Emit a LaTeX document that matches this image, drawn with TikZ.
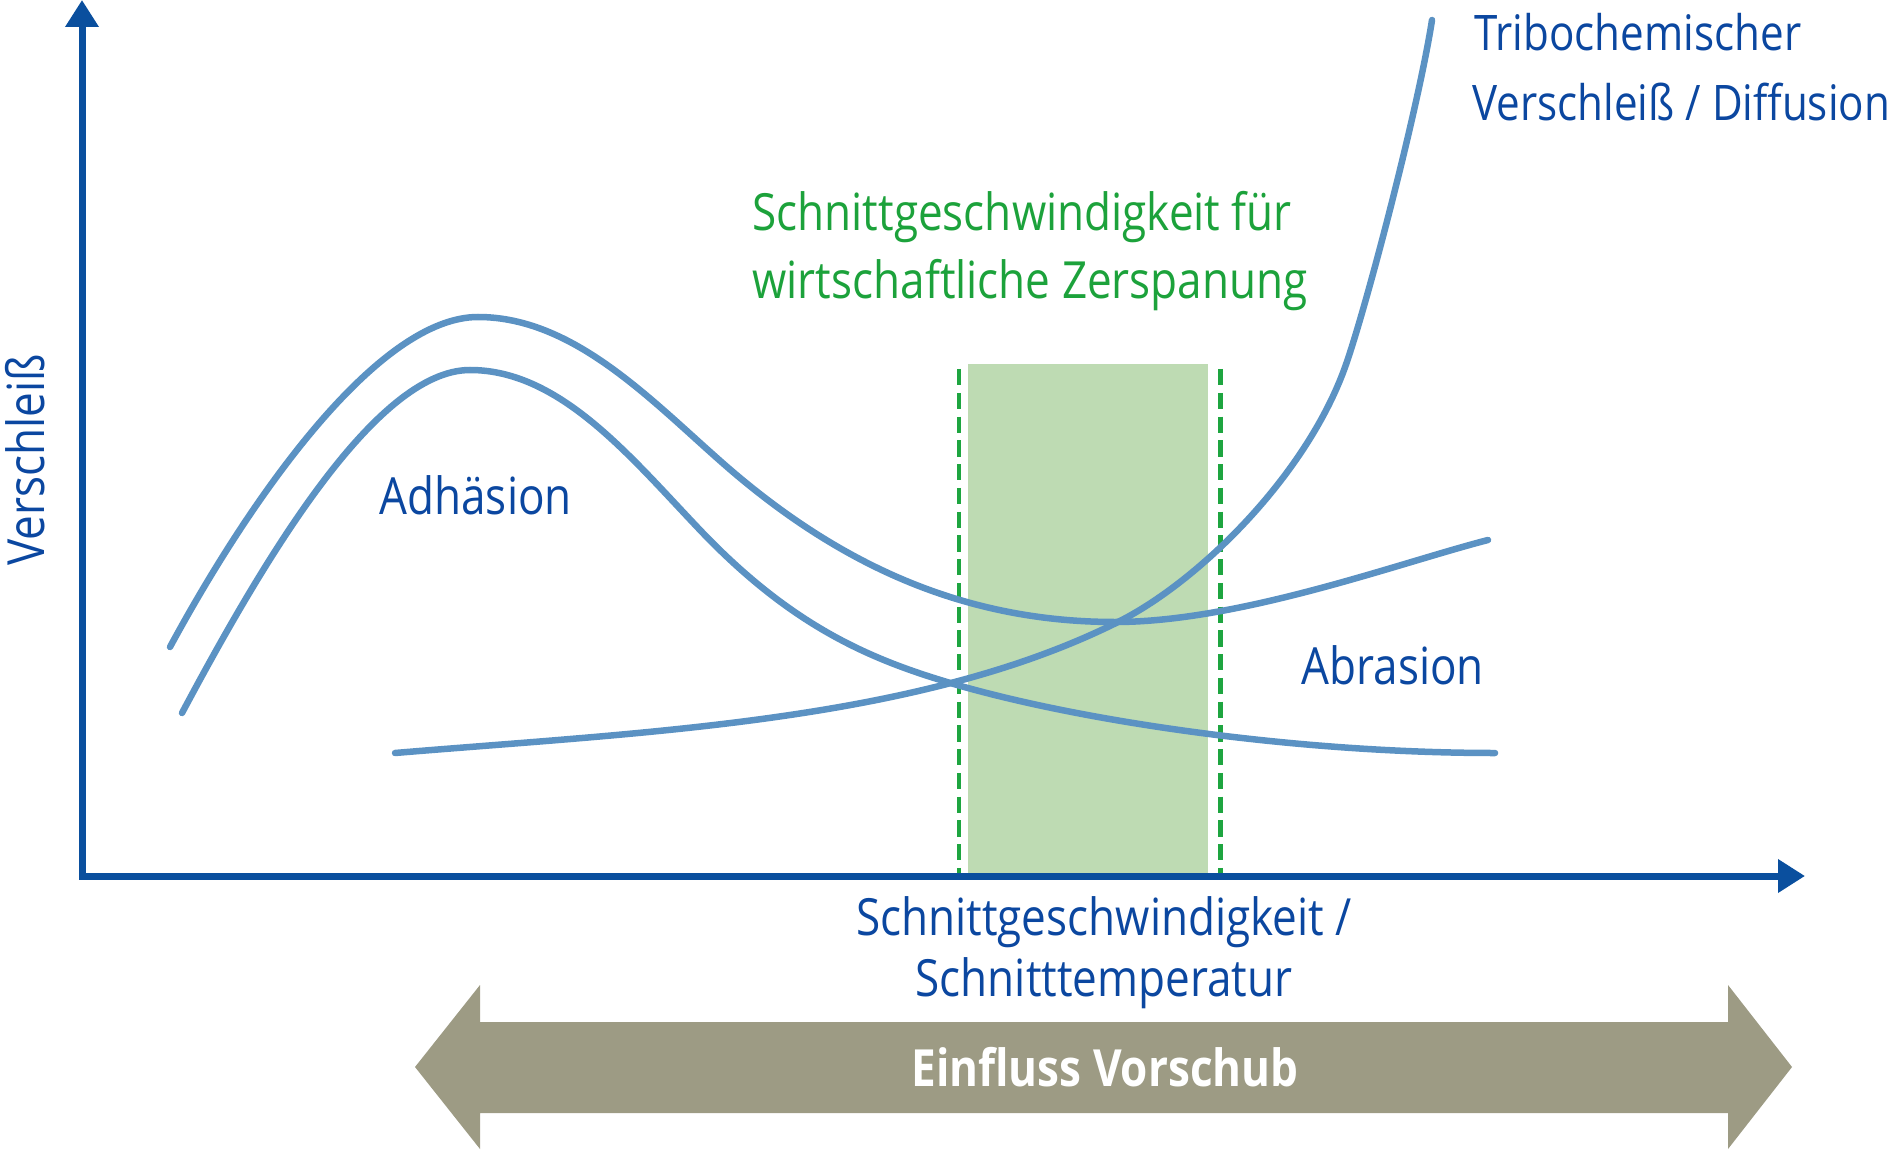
\documentclass[tikz,border=0pt]{standalone}
\usepackage{fontspec}
\setmainfont{Open Sans}[FakeStretch=0.86]
\usetikzlibrary{arrows.meta}
\definecolor{axisblue}{HTML}{0A4F9E}
\definecolor{txtblue}{HTML}{0B47A0}
\definecolor{curveblue}{HTML}{5B92C3}
\definecolor{zonegreen}{HTML}{BEDBB3}
\definecolor{dashgreen}{HTML}{1EA540}
\definecolor{txtgreen}{HTML}{1CA23B}
\definecolor{feedgray}{HTML}{9D9B84}
\begin{document}
\begin{tikzpicture}[x=0.4pt,y=-0.4pt,
  lbl/.style={inner sep=0pt, font=\fontsize{20.5}{24}\selectfont, text=txtblue},
  tribolbl/.style={lbl, font=\fontsize{19.6}{24}\selectfont},
  greenlbl/.style={lbl, text=txtgreen},
  curve/.style={draw=curveblue, line width=2.6pt, line cap=round, line join=round},
  axisline/.style={draw=axisblue, line width=2.8pt, line join=miter,
    {Triangle[length=10.8pt,width=12.8pt]}-{Triangle[length=10.8pt,width=12.8pt]}},
  zonedash/.style={draw=dashgreen, line width=1.7pt, dash pattern=on 6.5pt off 3pt},
  feedarrow/.style={fill=feedgray},
  feedlbl/.style={inner sep=0pt, font=\fontsize{20.5}{24}\selectfont\bfseries, text=white}
]
\useasboundingbox (0,0) rectangle (1890,1151);

% zone of economic cutting speed
\fill[zonegreen] (968,364) rectangle (1208,873);
\coordinate (dl1) at (959,369); \coordinate (dl2) at (959,873);
\coordinate (dr1) at (1220.6,369); \coordinate (dr2) at (1220.6,873);
\draw[zonedash] (dl1) -- (dl2);
\draw[zonedash] (dr1) -- (dr2);

% total wear curve (upper)
\draw[curve] (170,647) .. controls (255,490) and (380,317) .. (478,317)
  .. controls (578,317) and (658,408) .. (733,472)
  .. controls (843,565.5) and (965,622) .. (1115,622)
  .. controls (1240,622) and (1400,562.6) .. (1488,540);
% adhesion curve (lower)
\draw[curve] (182,713) .. controls (262,563) and (375,370) .. (470,370)
  .. controls (560,370) and (630,456.5) .. (700,530)
  .. controls (790,624.5) and (867,658) .. (947,682)
  .. controls (1077,721) and (1295,753) .. (1495,753);
% tribochemical wear / diffusion
\draw[curve] (395,753) .. controls (645,732) and (918,722) .. (1118,622)
  .. controls (1198,582) and (1304,478) .. (1344,370)
  .. controls (1364,316) and (1418,110) .. (1432,20);

% axes
\coordinate (orig) at (82,876);
\coordinate (ytip) at (82,0);
\coordinate (xtip) at (1805,876);
\draw[axisline] (ytip) -- (orig) -- (xtip);

% feed arrow
\fill[feedarrow] (415,1067) -- (480,985) -- (480,1022) -- (1728,1022) -- (1728,985) -- (1792,1067) -- (1728,1149) -- (1728,1113) -- (480,1113) -- (480,1149) -- cycle;
\node[feedlbl, anchor=base] (feed) at (1105,1086) {Einfluss Vorschub};

% labels
\node[tribolbl, anchor=base west] (tribo1) at (1474,51) {Tribochemischer};
\node[tribolbl, anchor=base west] (tribo2) at (1472,121) {Verschleiß / Diffusion};
\node[greenlbl, anchor=base west] (zone1) at (752,231) {Schnittgeschwindigkeit für};
\node[greenlbl, anchor=base west] (zone2) at (752,299) {wirtschaftliche Zerspanung};
\node[lbl, anchor=base west] (adh) at (379,514) {Adhäsion};
\node[lbl, anchor=base west] (abr) at (1301,684) {Abrasion};
\node[lbl, anchor=base] (xl1) at (1104,935) {Schnittgeschwindigkeit /};
\node[lbl, anchor=base] (xl2) at (1104,996) {Schnitttemperatur};
\node[lbl, rotate=90, anchor=base west] (yl) at (44,566) {Verschleiß};
\end{tikzpicture}
\end{document}
